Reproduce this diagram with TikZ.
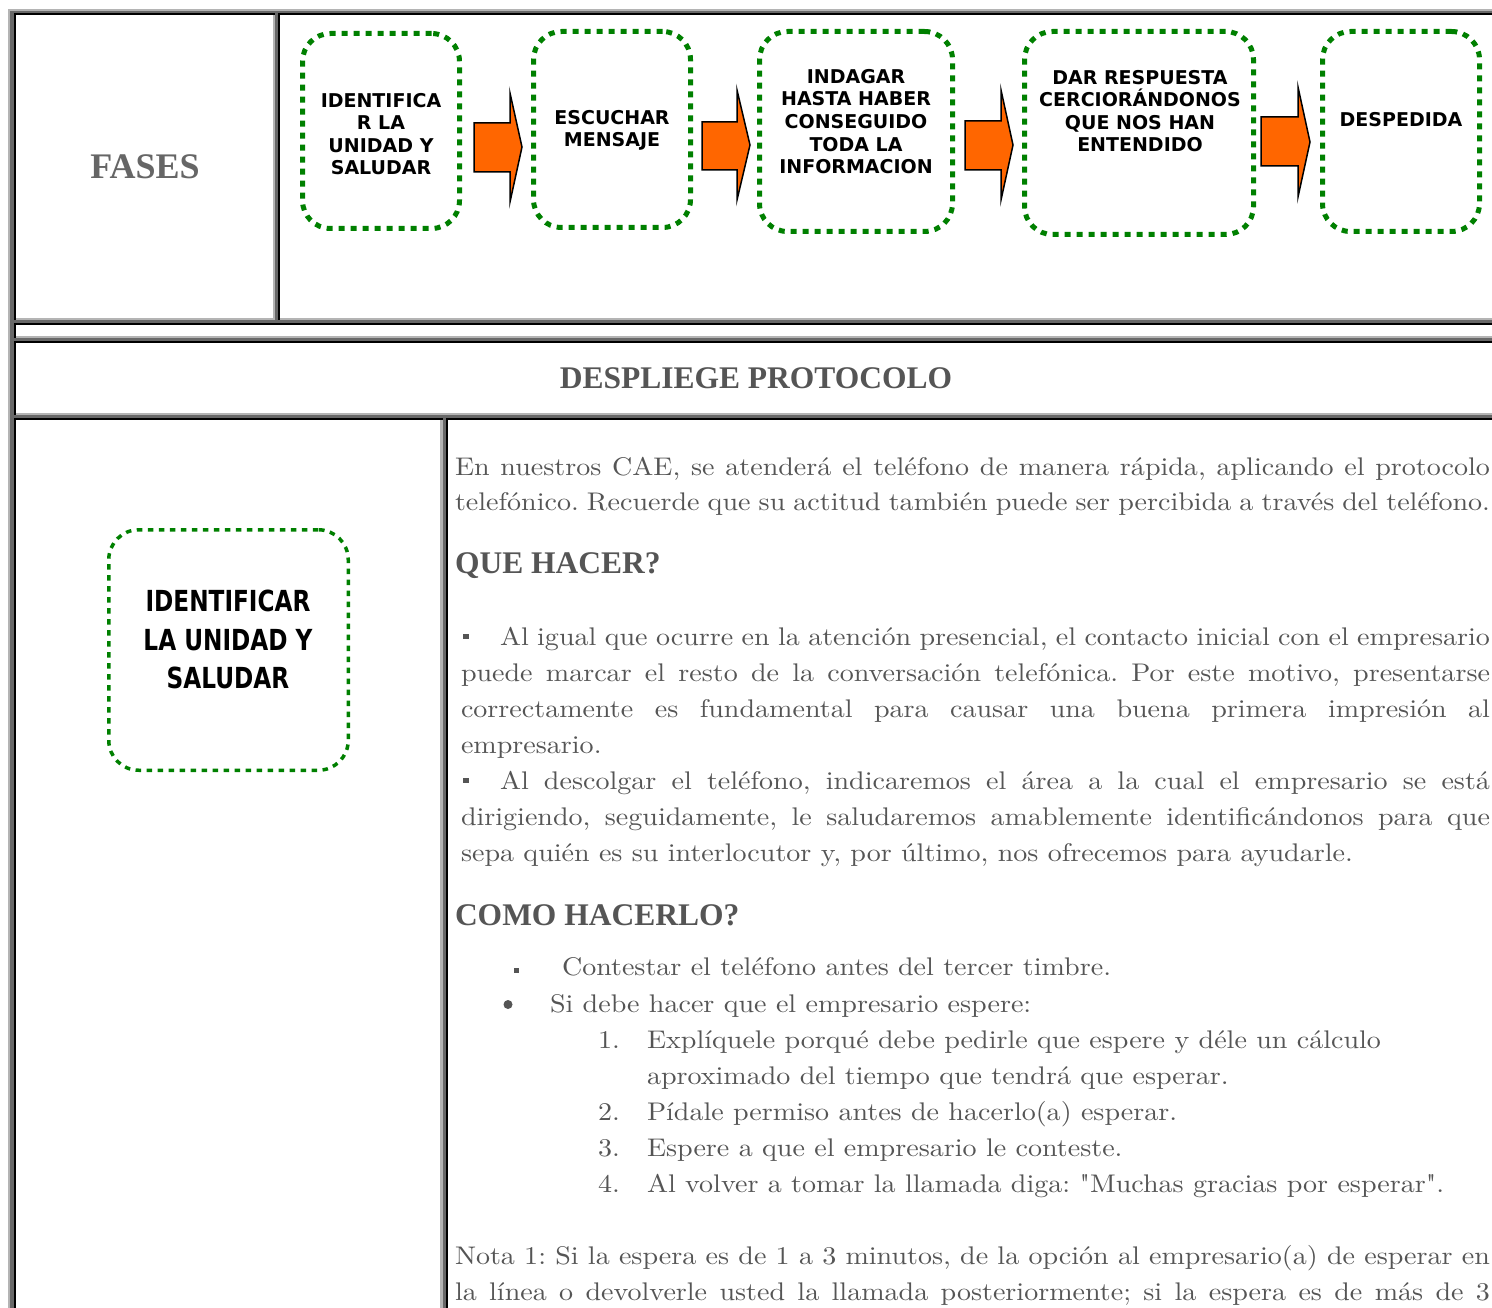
\documentclass[tikz,border=0pt]{standalone}
\usepackage{fontspec}
\newfontfamily\boxfont{DejaVu Sans}
\newfontfamily\pixfont[FakeStretch=0.8]{DejaVu Sans}
\newfontfamily\headfont{Liberation Serif}
\newfontfamily\bodyfont[FakeStretch=1.1]{lmroman10-regular.otf}
\definecolor{txtgray}{HTML}{555555}
\definecolor{fasesgray}{HTML}{666666}
\definecolor{tbldark}{HTML}{686868}
\definecolor{tbllight}{HTML}{B4B4B4}
\definecolor{boxgreen}{HTML}{008000}
\definecolor{arroworange}{HTML}{FF6600}
\newcommand\jl[2]{\hbox to #1pt{#2}}
\frenchspacing
\begin{document}
\begin{tikzpicture}[x=1pt,y=-1pt,
  txt/.style={anchor=base west, inner sep=0pt, outer sep=0pt, text=txtgray, font=\bodyfont\frenchspacing\fontsize{25.5}{30}\selectfont},
  head/.style={anchor=base west, inner sep=0pt, outer sep=0pt, text=txtgray, font=\headfont\bfseries\fontsize{31.5}{36}\selectfont},
  stepbox/.style={draw=boxgreen, line width=5pt, dash pattern=on 6pt off 6pt, rounded corners=28pt, inner sep=0pt, outer sep=0pt},
  bigbox/.style={draw=boxgreen, line width=3.5pt, dash pattern=on 5.5pt off 5.5pt, rounded corners=30pt, inner sep=0pt, outer sep=0pt},
  boxtxt/.style={align=center, inner sep=0pt, outer sep=0pt, font=\boxfont\bfseries\fontsize{19}{22.6}\selectfont},
  pixtxt/.style={align=center, inner sep=0pt, outer sep=0pt, font=\pixfont\bfseries\fontsize{29}{38.5}\selectfont},
  blockarrow/.style={fill=arroworange, draw=black, line width=1.5pt, line join=miter}
]
\useasboundingbox (0,0) rectangle (1492,1308);
\clip (0,0) rectangle (1492,1308);
\fill[white] (0,0) rectangle (1492,1308);
% table frame
\fill[tbldark] (8,9.5) rectangle (1500,1320);
\fill[tbllight] (8,9.5) rectangle (10,1320);
\fill[tbllight] (8,9.5) rectangle (1500,11);
% cells: white, black top/left, light bottom/right
\foreach \xa/\ya/\xb/\yb in {13.5/13.5/275/319.5, 278/13.5/1500/319.5, 13.5/322.5/1500/338, 13.5/341/1500/414.5, 13.5/417.5/442.5/1320, 445.5/417.5/1500/1320}{
  \fill[white] (\xa,\ya) rectangle (\xb,\yb);
  \fill[tbllight] (\xa,{\yb-2}) rectangle (\xb,\yb);
  \fill[tbllight] ({\xb-2.5},\ya) rectangle (\xb,\yb);
  \fill[black] (\xa,\ya) rectangle (\xb,{\ya+2});
  \fill[black] (\xa,\ya) rectangle ({\xa+2},\yb);
}
% FASES
\node[font=\headfont\bfseries\fontsize{36}{40}\selectfont, text=fasesgray, inner sep=0pt] (fases) at (145,167) {FASES};
% flow boxes
\node[stepbox, minimum width=157pt, minimum height=195pt] (b1) at (381,131) {};
\node[stepbox, minimum width=157pt, minimum height=196pt] (b2) at (612,129.5) {};
\node[stepbox, minimum width=193pt, minimum height=200pt] (b3) at (856,131.5) {};
\node[stepbox, minimum width=229pt, minimum height=203pt] (b4) at (1139,133) {};
\node[stepbox, minimum width=157pt, minimum height=200pt] (b5) at (1401,131.5) {};
\node[boxtxt] (t1) at (381,134) {IDENTIFICA\\R LA\\UNIDAD Y\\SALUDAR};
\node[boxtxt] (t2) at (612,130.5) {ESCUCHAR\\MENSAJE};
\node[boxtxt] (t3) at (856,121.5) {INDAGAR\\HASTA HABER\\CONSEGUIDO\\TODA LA\\INFORMACION};
\node[boxtxt] (t4) at (1140,111) {DAR RESPUESTA\\CERCIORÁNDONOS\\QUE NOS HAN\\ENTENDIDO};
\node[boxtxt] (t5) at (1401,120) {DESPEDIDA};
% block arrows
\draw[blockarrow] (474,123) -- (510,123) -- (510,93) -- (522,147) -- (510,202) -- (510,172) -- (474,172) -- cycle;
\draw[blockarrow] (702,122) -- (737,122) -- (737,90) -- (750,145) -- (737,200) -- (737,170) -- (702,170) -- cycle;
\draw[blockarrow] (965,121) -- (1001,121) -- (1001,90) -- (1013,145) -- (1001,200) -- (1001,170) -- (965,170) -- cycle;
\draw[blockarrow] (1261,117) -- (1298,117) -- (1298,87) -- (1310,142) -- (1298,197) -- (1298,166) -- (1261,166) -- cycle;
% header
\node[font=\headfont\bfseries\fontsize{31.5}{36}\selectfont, text=txtgray, inner sep=0pt] (desp) at (756,378) {DESPLIEGE PROTOCOLO};
% left box
\node[bigbox, minimum width=239.5pt, minimum height=240.5pt] (lb) at (228.5,650) {};
\node[pixtxt] (lt) at (228,639.5) {IDENTIFICAR\\LA UNIDAD Y\\SALUDAR};
% body text
\node[txt] (p1) at (455,475) {\jl{1035}{En nuestros CAE, se atenderá el teléfono de manera rápida, aplicando el protocolo}};
\node[txt] (p2) at (455,510) {\jl{1035}{telefónico. Recuerde que su actitud también puede ser percibida a través del teléfono.}};
\node[head] (h1) at (455,573) {QUE HACER?};
\fill[txtgray] (463,633.5) rectangle (468.5,639);
\node[txt] (q1) at (500,645) {\jl{990}{Al igual que ocurre en la atención presencial, el contacto inicial con el empresario}};
\node[txt] (q2) at (461,681) {\jl{1029}{puede marcar el resto de la conversación telefónica. Por este motivo, presentarse}};
\node[txt] (q3) at (461,717) {\jl{1029}{correctamente es fundamental para causar una buena primera impresión al}};
\node[txt] (q4) at (461,753) {empresario.};
\fill[txtgray] (463,777.5) rectangle (468.5,783);
\node[txt] (q5) at (500,789) {\jl{990}{Al descolgar el teléfono, indicaremos el área a la cual el empresario se está}};
\node[txt] (q6) at (461,825) {\jl{1029}{dirigiendo, seguidamente, le saludaremos amablemente identificándonos para que}};
\node[txt] (q7) at (461,861) {sepa quién es su interlocutor y, por último, nos ofrecemos para ayudarle.};
\node[head] (h2) at (455,925) {COMO HACERLO?};
\fill[txtgray] (513.5,967.5) rectangle (519,973);
\node[txt] (c1) at (562,975) {Contestar el teléfono antes del tercer timbre.};
\fill[txtgray] (508,1004.5) circle (4.5);
\node[txt] (c2) at (550,1012) {Si debe hacer que el empresario espere:};
\node[txt] (n1) at (598,1048) {1.};
\node[txt] (c3) at (647,1048) {Explíquele porqué debe pedirle que espere y déle un cálculo};
\node[txt] (c4) at (647,1084) {aproximado del tiempo que tendrá que esperar.};
\node[txt] (n2) at (598,1120) {2.};
\node[txt] (c5) at (647,1120) {Pídale permiso antes de hacerlo(a) esperar.};
\node[txt] (n3) at (598,1156) {3.};
\node[txt] (c6) at (647,1156) {Espere a que el empresario le conteste.};
\node[txt] (n4) at (598,1192) {4.};
\node[txt] (c7) at (647,1192) {Al volver a tomar la llamada diga: "Muchas gracias por esperar".};
\node[txt] (m1) at (455,1264) {\jl{1035}{Nota 1: Si la espera es de 1 a 3 minutos, de la opción al empresario(a) de esperar en}};
\node[txt] (m2) at (455,1300) {\jl{1035}{la línea o devolverle usted la llamada posteriormente; si la espera es de más de 3}};
\end{tikzpicture}
\end{document}
